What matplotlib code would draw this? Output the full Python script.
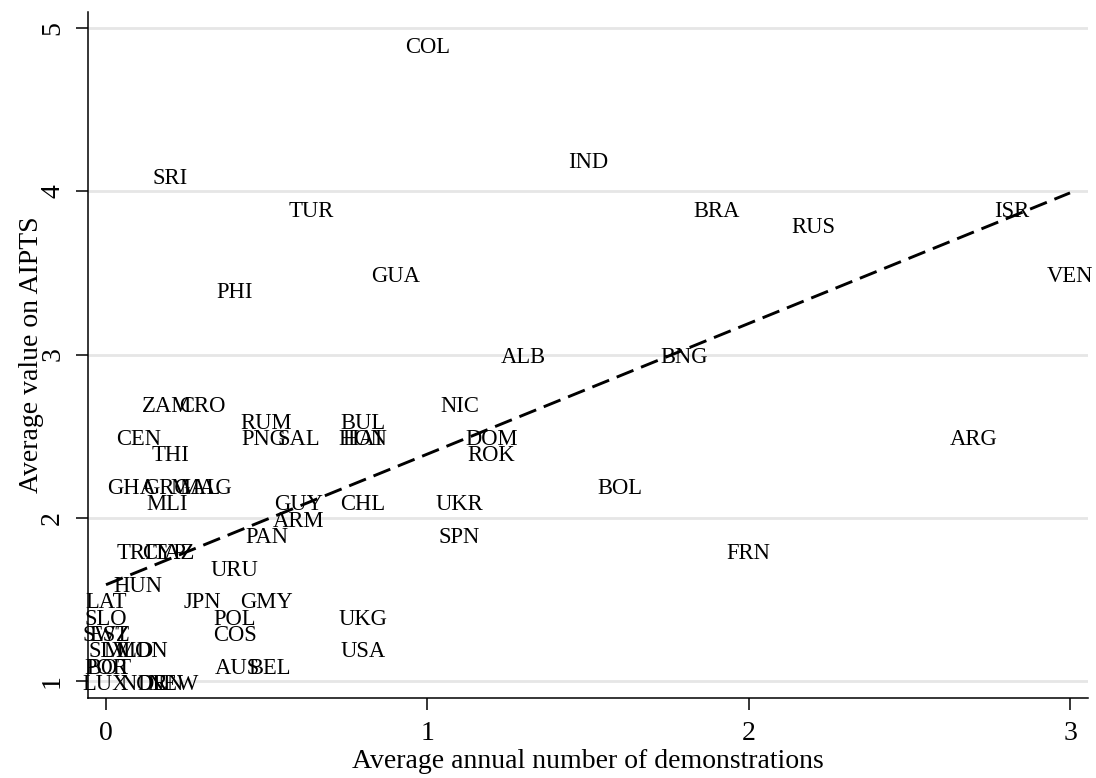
import numpy as np
import matplotlib
matplotlib.use("Agg")
import matplotlib.pyplot as plt

plt.rcParams['font.family'] = ['Liberation Serif', 'DejaVu Serif']

# Laenderkuerzel mit durchschnittlicher Zahl der Demonstrationen und AIPTS-Wert
laender = ['COL', 'IND', 'SRI', 'TUR', 'BRA', 'RUS', 'ISR', 'VEN', 'GUA', 'PHI',
           'ALB', 'BNG', 'NIC', 'ZAM', 'CRO', 'RUM', 'BUL', 'CEN', 'PNG', 'SAL',
           'HAI', 'HON', 'DOM', 'ARG', 'THI', 'ROK', 'GHA', 'GRG', 'MAL', 'MAG',
           'BOL', 'MLI', 'GUY', 'CHL', 'UKR', 'ARM', 'PAN', 'SPN', 'TRI', 'CYP',
           'TAZ', 'FRN', 'URU', 'HUN', 'LAT', 'JPN', 'GMY', 'SLO', 'POL', 'UKG',
           'SWZ', 'EST', 'COS', 'SLV', 'MLD', 'MON', 'USA', 'POR', 'BOT', 'AUS',
           'BEL', 'LUX', 'NOR', 'DEN', 'NEW']
demos = [1.00, 1.50, 0.20, 0.64, 1.90, 2.20, 2.82, 3.00, 0.90, 0.40,
         1.30, 1.80, 1.10, 0.19, 0.30, 0.50, 0.80, 0.10, 0.49, 0.60,
         0.80, 0.80, 1.20, 2.70, 0.20, 1.20, 0.08, 0.19, 0.28, 0.31,
         1.60, 0.19, 0.60, 0.80, 1.10, 0.60, 0.50, 1.10, 0.09, 0.18,
         0.21, 2.00, 0.40, 0.10, 0.00, 0.30, 0.50, 0.00, 0.40, 0.80,
         0.00, 0.01, 0.40, 0.01, 0.07, 0.11, 0.80, 0.00, 0.01, 0.41,
         0.51, 0.00, 0.12, 0.17, 0.21]
aipts = [4.9, 4.2, 4.1, 3.9, 3.9, 3.8, 3.9, 3.5, 3.5, 3.4,
         3.0, 3.0, 2.7, 2.7, 2.7, 2.6, 2.6, 2.5, 2.5, 2.5,
         2.5, 2.5, 2.5, 2.5, 2.4, 2.4, 2.2, 2.2, 2.2, 2.2,
         2.2, 2.1, 2.1, 2.1, 2.1, 2.0, 1.9, 1.9, 1.8, 1.8,
         1.8, 1.8, 1.7, 1.6, 1.5, 1.5, 1.5, 1.4, 1.4, 1.4,
         1.3, 1.3, 1.3, 1.2, 1.2, 1.2, 1.2, 1.1, 1.1, 1.1,
         1.1, 1.0, 1.0, 1.0, 1.0]

# Regressionsgerade (Endpunkte)
fit_x = [0.0, 3.0]
fit_y = [1.59, 3.99]

fig = plt.figure(figsize=(10.96, 7.78), dpi=100)
ax = fig.add_axes([0.0803, 0.1028, 0.9124, 0.8818])

ax.set_xlim(-0.056, 3.056)
ax.set_ylim(0.896, 5.098)

# Gitter nur horizontal
ax.set_yticks([1, 2, 3, 4, 5])
ax.set_xticks([0, 1, 2, 3])
ax.grid(True, axis='y', color='#e6e6e6', linewidth=2)
ax.set_axisbelow(True)

# Laenderkuerzel als Marker
for name, xv, yv in zip(laender, demos, aipts):
    ax.annotate(name, (xv, yv), xytext=(0, -2.5), textcoords='offset points',
                ha='center', va='center', fontsize=16.3, color='black')

ax.plot(fit_x, fit_y, color='black', linewidth=2.1, dashes=(6.2, 2.8))

for s in ['top', 'right']:
    ax.spines[s].set_visible(False)
for s in ['left', 'bottom']:
    ax.spines[s].set_linewidth(1.1)

ax.tick_params(axis='both', direction='out', length=8.5, width=1.1, labelsize=20, pad=8)
plt.setp(ax.get_yticklabels(), rotation=90, va='center')

ax.set_xlabel('Average annual number of demonstrations', fontsize=20, labelpad=2)
ax.set_ylabel('Average value on AIPTS', fontsize=20, labelpad=-3)

fig.savefig('out.png', dpi=100)
